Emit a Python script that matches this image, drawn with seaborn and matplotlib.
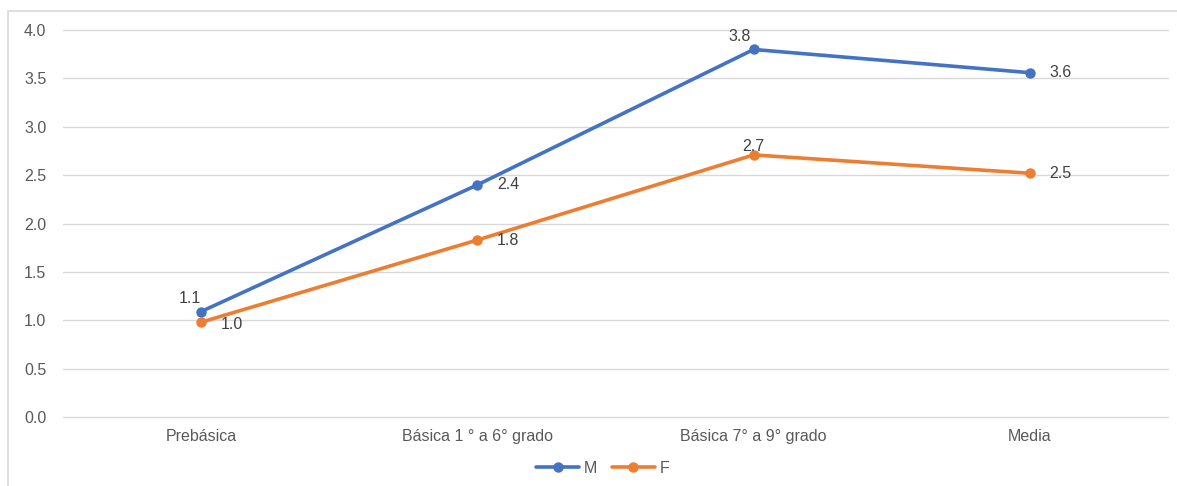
import matplotlib
matplotlib.use("Agg")
import matplotlib.pyplot as plt
import seaborn as sns
import pandas as pd
from matplotlib.patches import Rectangle
from matplotlib.lines import Line2D

categories = ["Prebásica", "Básica 1 ° a 6° grado", "Básica 7° a 9° grado", "Media"]
m_values = [1.09, 2.40, 3.80, 3.56]
f_values = [0.98, 1.83, 2.71, 2.52]
m_labels = ["1.1", "2.4", "3.8", "3.6"]
f_labels = ["1.0", "1.8", "2.7", "2.5"]
y_ticks = [0.0, 0.5, 1.0, 1.5, 2.0, 2.5, 3.0, 3.5, 4.0]

sns.set_theme(style="white")
plt.rcParams['font.family'] = ['Liberation Sans', 'DejaVu Sans']

df = pd.DataFrame({
    "x": list(range(len(categories))) * 2,
    "val": m_values + f_values,
    "serie": ["M"] * 4 + ["F"] * 4,
})

fig = plt.figure(figsize=(11.77, 4.86), dpi=100)
ax = fig.add_axes([0.0535, 0.142, 0.9389, 0.796])
fig.patches.append(Rectangle((8/1177, -0.05), 1.2, 1 - 11/486 + 0.05, transform=fig.transFigure,
                             fill=False, edgecolor="#d9d9d9", linewidth=1.2))

palette = {"M": "#4472C4", "F": "#ED7D31"}
sns.lineplot(data=df, x="x", y="val", hue="serie", palette=palette, marker="o",
             markersize=7.5, linewidth=2.6, markeredgewidth=0, ax=ax, legend=False)

fs = 11.5
txt = dict(color="#404040", fontsize=fs)
offs_m = [(-8, 4, "center", "bottom"), (14, 0, "left", "center"), (-10, 4, "center", "bottom"), (14, 0, "left", "center")]
offs_f = [(14, -2, "left", "center"), (14, 0, "left", "center"), (0, 1, "center", "bottom"), (14, 0, "left", "center")]
for i, (v, l) in enumerate(zip(m_values, m_labels)):
    dx, dy, ha, va = offs_m[i]
    ax.annotate(l, (i, v), xytext=(dx, dy), textcoords="offset points", ha=ha, va=va, **txt)
for i, (v, l) in enumerate(zip(f_values, f_labels)):
    dx, dy, ha, va = offs_f[i]
    ax.annotate(l, (i, v), xytext=(dx, dy), textcoords="offset points", ha=ha, va=va, **txt)

ax.set_xlim(-0.5, 3.5)
ax.set_ylim(0, 4.0)
ax.set_yticks(y_ticks)
ax.set_yticklabels([f"{t:.1f}" for t in y_ticks])
ax.set_xticks(range(len(categories)))
ax.set_xticklabels(categories)
ax.tick_params(axis="both", colors="#595959", labelsize=fs, length=0)
ax.tick_params(axis="x", pad=9)
ax.tick_params(axis="y", pad=12)
ax.grid(axis="y", color="#d9d9d9", linewidth=1)
for gl in ax.get_ygridlines():
    gl.set_clip_on(False)
ax.set_axisbelow(True)
for s in ax.spines.values():
    s.set_visible(False)
ax.set_xlabel("")
ax.set_ylabel("")

handles = [Line2D([], [], color=palette[k], marker="o", markersize=7.5, linewidth=2.6, markeredgewidth=0) for k in ["M", "F"]]
fig.legend(handles, ["M", "F"], loc="center", bbox_to_anchor=(0.512, 0.036), ncol=2, frameon=False,
           fontsize=fs, labelcolor="#595959", handlelength=2.7, handletextpad=0.3, columnspacing=0.9)

fig.savefig("out.png", dpi=100)
